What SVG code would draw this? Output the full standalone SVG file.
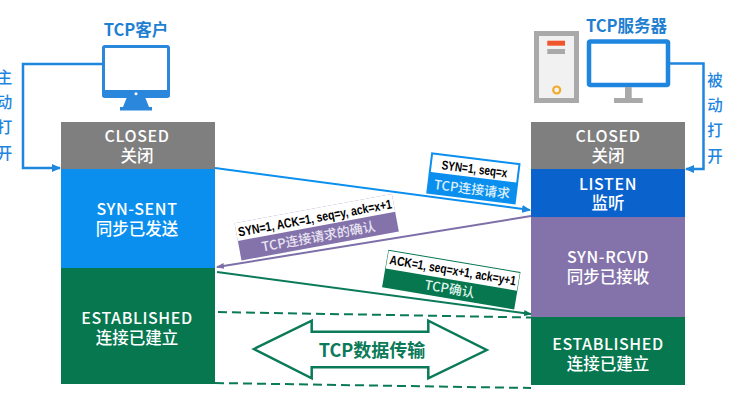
<svg xmlns="http://www.w3.org/2000/svg" width="737" height="407" viewBox="0 0 737 407">
<style>
text{font-family:"Noto Sans CJK SC","Noto Sans",sans-serif;text-anchor:middle;font-weight:700}
.w{fill:#fff;font-size:16.500px;font-weight:500}
.l{fill:#fff;font-size:16px;letter-spacing:.6px;font-weight:500}
.b{fill:#1f86e0;font-size:15.500px;font-weight:500}
.t{fill:#1f7fd0;font-size:16.500px}
.m{fill:#000;font-family:"Liberation Sans",Arial,sans-serif;font-weight:700;font-size:13px}
.s{fill:#dff0fb;font-size:13px;font-weight:500}
.c{fill:none;stroke-width:2}
.e{fill:none;stroke:#1f86e0;stroke-width:2.500}
.d{fill:none;stroke:#0a7a58;stroke-width:2;stroke-dasharray:9 5}
</style>
<defs>
<marker id="ab" markerWidth="9" markerHeight="8" refX="8" refY="4" orient="auto" markerUnits="userSpaceOnUse"><path d="M0 0L9 4L0 8Z" fill="#1f86e0"/></marker>
<marker id="ap" markerWidth="8" markerHeight="6" refX="7" refY="3" orient="auto" markerUnits="userSpaceOnUse"><path d="M0 0L8 3L0 6Z" fill="#7d6fa8"/></marker>
<marker id="ag" markerWidth="8" markerHeight="6" refX="7" refY="3" orient="auto" markerUnits="userSpaceOnUse"><path d="M0 0L8 3L0 6Z" fill="#0a7a58"/></marker>
</defs>
<rect width="737" height="407" fill="#fff"/>
<g id="client-icon">
<rect x="103.500" y="46.500" width="65" height="50" rx="1.500" fill="#fff" stroke="#2b87dc" stroke-width="3"/>
<path d="M102 90H170V95.500Q170 97 168.500 97H103.500Q102 97 102 95.500Z" fill="#2b87dc"/>
<path d="M127 97H145L149 107H152V110.500H120V107H123Z" fill="#2b87dc"/>
<circle cx="136" cy="93.700" r="1.500" fill="#fff"/>
<text x="136" y="36" class="t">TCP客户</text>
</g>
<g id="server-icon">
<rect x="536.500" y="33.500" width="40" height="67" fill="#f1f1f1" stroke="#a9a9a9" stroke-width="5"/>
<rect x="547.300" y="40.700" width="17.700" height="5" fill="#f0562b"/>
<rect x="547.300" y="49" width="17.700" height="5" fill="#a9a9a9"/>
<circle cx="556.700" cy="90" r="3.500" fill="none" stroke="#f4a92a" stroke-width="2.200"/>
<rect x="589" y="41.500" width="79" height="43.500" rx="1.500" fill="#fff" stroke="#1f86e0" stroke-width="4.500"/>
<rect x="625" y="87" width="6.700" height="11" fill="#a9a9a9"/>
<rect x="614" y="98" width="28.700" height="5" fill="#a9a9a9"/>
<text x="626.500" y="32" class="t">TCP服务器</text>
</g>
<g id="client-states">
<rect x="61" y="122" width="154" height="47" fill="#7f7f7f"/>
<rect x="61" y="169" width="154" height="99" fill="#0a8fee"/>
<rect x="61" y="268" width="154" height="116" fill="#06774f"/>
<text x="137" y="142" class="l">CLOSED</text><text x="137" y="162" class="w">关闭</text>
<text x="137" y="215" class="l">SYN-SENT</text><text x="137" y="235" class="w">同步已发送</text>
<text x="137" y="324" class="l">ESTABLISHED</text><text x="137" y="344" class="w">连接已建立</text>
</g>
<g id="server-states">
<rect x="531" y="122" width="154" height="47" fill="#7f7f7f"/>
<rect x="531" y="169" width="154" height="48" fill="#0a63cc"/>
<rect x="531" y="217" width="154" height="100" fill="#8473ab"/>
<rect x="531" y="317" width="154" height="68" fill="#06774f"/>
<text x="608" y="142" class="l">CLOSED</text><text x="608" y="162" class="w">关闭</text>
<text x="608" y="190" class="l">LISTEN</text><text x="608" y="209" class="w">监听</text>
<text x="608" y="263" class="l">SYN-RCVD</text><text x="608" y="283" class="w">同步已接收</text>
<text x="608" y="350" class="l">ESTABLISHED</text><text x="608" y="370" class="w">连接已建立</text>
</g>
<g id="connectors">
<path class="e" d="M102 64H23V168H60" marker-end="url(#ab)"/>
<path class="e" d="M670 63.500H703.500V169H686" marker-end="url(#ab)"/>
<path class="c" stroke="#0a8fee" d="M215 168L530 210" marker-end="url(#ab)"/>
<path class="c" stroke="#7d6fa8" d="M531 216L217 267" marker-end="url(#ap)"/>
<path class="c" stroke="#0a7a58" d="M217 272L531 314" marker-end="url(#ag)"/>
<path class="d" d="M218 312L531 317.500"/>
<path class="d" d="M215 383L531 388"/>
</g>
<g id="label-syn" transform="translate(473.400 178.300) rotate(7)">
<rect x="-45" y="-20.700" width="90" height="41.500" fill="#0a8fee"/>
<rect x="-43" y="-18.700" width="86" height="17.700" fill="#fff"/>
<text y="-5" class="m" textLength="66" lengthAdjust="spacingAndGlyphs">SYN=1, seq=x</text>
<text y="15.500" class="s">TCP连接请求</text>
</g>
<g id="label-synack" transform="translate(316.700 227.300) rotate(-10.500)">
<rect x="-80" y="-19" width="160" height="38" fill="#8473ab"/>
<rect x="-80" y="-19" width="160" height="18" fill="#fff"/>
<text y="-5" class="m" textLength="156" lengthAdjust="spacingAndGlyphs">SYN=1, ACK=1, seq=y, ack=x+1</text>
<text y="14" class="s" style="fill:#e9e4f2">TCP连接请求的确认</text>
</g>
<g id="label-ack" transform="translate(451.300 279.600) rotate(9.600)">
<rect x="-67" y="-19" width="134" height="38" fill="#06774f"/>
<rect x="-66.500" y="-18" width="133" height="18" fill="#fff"/>
<text y="-5" class="m" textLength="128" lengthAdjust="spacingAndGlyphs">ACK=1, seq=x+1, ack=y+1</text>
<text y="14" class="s" style="fill:#dff3ea">TCP确认</text>
</g>
<g id="data-transfer">
<path d="M254 349L311.700 320.700V331.700H428.300V320.700L486.700 350L428.300 378.300V367.300H311.700V378.300Z" fill="#fff" stroke="#0a7a58" stroke-width="2.500"/>
<text x="372" y="357" style="fill:#0a7a58;font-size:18px">TCP数据传输</text>
</g>
<g id="side-labels">
<text x="4.500" y="83" class="b">主</text><text x="4.500" y="108" class="b">动</text><text x="4.500" y="133" class="b">打</text><text x="4.500" y="159" class="b">开</text>
<text x="715" y="86" class="b">被</text><text x="715" y="111" class="b">动</text><text x="715" y="136" class="b">打</text><text x="715" y="162" class="b">开</text>
</g>
</svg>
